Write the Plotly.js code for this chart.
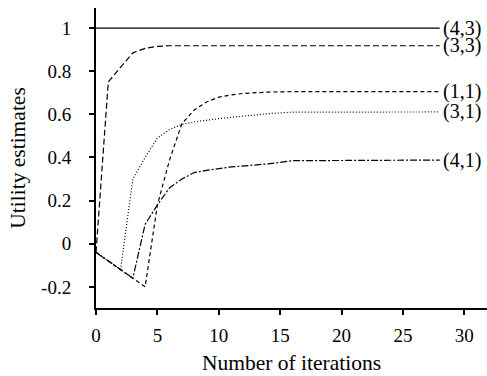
<!DOCTYPE html>
<html>
<head>
<meta charset="utf-8">
<script src="https://cdn.plot.ly/plotly-3.0.1.min.js"></script>
<style>html,body{margin:0;padding:0;background:#fff;}#chart{width:487px;height:376px;}</style>
</head>
<body>
<div id="chart"></div>
<script>
// Series data (iteration, utility estimate)
const labels = ["(4,3)", "(3,3)", "(1,1)", "(3,1)", "(4,1)"];
const x43 = [0, 28];
const y43 = [1, 1];
const x33 = [0, 1, 2, 3, 4, 5, 6, 28];
const y33 = [-0.04, 0.75, 0.818, 0.885, 0.906, 0.915, 0.918, 0.918];
const x11 = [0, 1, 2, 3, 4, 5, 6, 7, 8, 9, 10, 11, 12, 14, 16, 28];
const y11 = [-0.04, -0.08, -0.12, -0.16, -0.2, 0.18, 0.39, 0.557, 0.62, 0.657, 0.68, 0.69, 0.697, 0.703, 0.705, 0.705];
const x31 = [0, 1, 2, 3, 4, 5, 6, 7, 8, 10, 12, 14, 16, 28];
const y31 = [-0.04, -0.08, -0.12, 0.30, 0.40, 0.49, 0.53, 0.553, 0.565, 0.58, 0.592, 0.603, 0.61, 0.611];
const x41 = [0, 1, 2, 3, 4, 5, 6, 7, 8, 9, 11, 14, 16, 28];
const y41 = [-0.04, -0.08, -0.12, -0.16, 0.09, 0.18, 0.26, 0.30, 0.33, 0.34, 0.356, 0.37, 0.385, 0.388];
const yTickVals = [-0.2, 0, 0.2, 0.4, 0.6, 0.8, 1];
const yTickText = ["-0.2", "0", "0.2", "0.4", "0.6", "0.8", "1"];
const xTickVals = [0, 5, 10, 15, 20, 25, 30];

const xs = [x43, x33, x11, x31, x41];
const ys = [y43, y33, y11, y31, y41];
const dashes = ["solid", "6px,3px", "4px,3px", "1px,2px", "7px,2px,2px,2px"];

const FONT = "'Liberation Serif', 'Times New Roman', serif";
const traces = xs.map((x, i) => ({
  x: x, y: ys[i], mode: "lines", type: "scatter",
  line: {color: "#000", width: 1.2, dash: dashes[i]},
  hoverinfo: "skip", showlegend: false
}));

const annotations = labels.map((t, i) => ({
  x: xs[i][xs[i].length - 1], y: ys[i][ys[i].length - 1],
  xref: "x", yref: "y", text: t, showarrow: false,
  xanchor: "left", yanchor: "middle", xshift: 1,
  font: {family: FONT, size: 20, color: "#000"}
}));

const layout = {
  width: 487, height: 376,
  margin: {l: 96, r: 0, t: 8, b: 68},
  paper_bgcolor: "#fff", plot_bgcolor: "#fff",
  font: {family: FONT, size: 19, color: "#000"},
  xaxis: {
    range: [0, 31.85], tickvals: xTickVals, ticks: "outside", ticklen: 5, tickwidth: 2,
    tickcolor: "#000", showline: true, linecolor: "#000", linewidth: 2,
    showgrid: false, zeroline: false, ticklabelstandoff: 4,
    tickfont: {family: FONT, size: 19},
    title: {text: "Number of iterations", font: {family: FONT, size: 21.5}, standoff: 10}
  },
  yaxis: {
    range: [-0.298, 1.093], tickvals: yTickVals, ticktext: yTickText, ticks: "outside",
    ticklen: 5, tickwidth: 2, tickcolor: "#000", showline: true, linecolor: "#000",
    linewidth: 2, showgrid: false, zeroline: false, ticklabelstandoff: 14,
    tickfont: {family: FONT, size: 19},
    title: {text: "Utility estimates", font: {family: FONT, size: 21.5}, standoff: 10}
  },
  annotations: annotations
};
Plotly.newPlot("chart", traces, layout, {displayModeBar: false, staticPlot: true});
</script>
</body>
</html>
